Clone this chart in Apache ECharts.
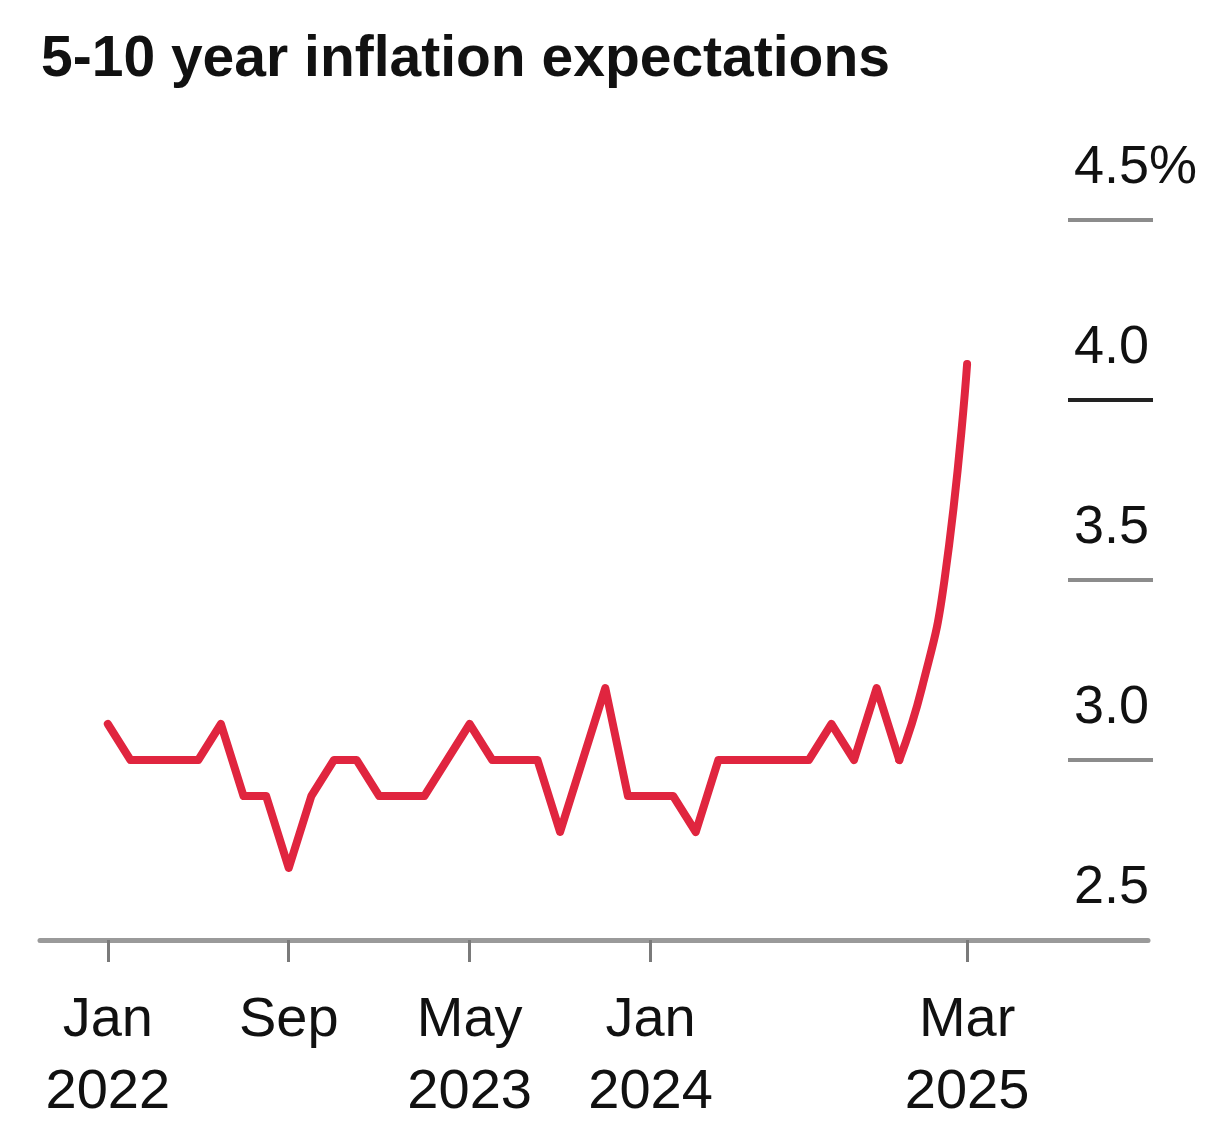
<!DOCTYPE html>
<html>
<head>
<meta charset="utf-8">
<script src="https://cdn.jsdelivr.net/npm/echarts@6/dist/echarts.min.js"></script>
<style>
html,body{margin:0;padding:0;background:#fff;}
#chart{width:1224px;height:1142px;}
</style>
</head>
<body>
<div id="chart"></div>
<script>
// Months from Jan 2022 (index 0) to Mar 2025 (index 38)
var months = [
  '2022-01','2022-02','2022-03','2022-04','2022-05','2022-06','2022-07','2022-08','2022-09','2022-10','2022-11','2022-12',
  '2023-01','2023-02','2023-03','2023-04','2023-05','2023-06','2023-07','2023-08','2023-09','2023-10','2023-11','2023-12',
  '2024-01','2024-02','2024-03','2024-04','2024-05','2024-06','2024-07','2024-08','2024-09','2024-10','2024-11','2024-12',
  '2025-01','2025-02','2025-03'
];
var expectations = [
  3.1, 3.0, 3.0, 3.0, 3.0, 3.1, 2.9, 2.9, 2.7, 2.9, 3.0, 3.0,
  2.9, 2.9, 2.9, 3.0, 3.1, 3.0, 3.0, 3.0, 2.8, 3.0, 3.2, 2.9,
  2.9, 2.9, 2.8, 3.0, 3.0, 3.0, 3.0, 3.0, 3.1, 3.0, 3.2, 3.0,
  3.2, 3.5, 4.1
];
var xTickIndex = [0, 8, 16, 24, 38];
var xTickLabels = ['Jan\n2022', 'Sep', 'May\n2023', 'Jan\n2024', 'Mar\n2025'];
var yTickValues = [2.5, 3.0, 3.5, 4.0, 4.5];
var yTickLabels = ['2.5', '3.0', '3.5', '4.0', '4.5%'];
var titleText = '5-10 year inflation expectations';

var FONT = "'Liberation Sans', Arial, Helvetica, sans-serif";
var splitIdx = 35; // Dec 2024: last steep rise drawn as a smooth curve
var linePart = [], curvePart = [];
for (var i = 0; i < months.length; i++) {
  if (i <= splitIdx) linePart.push([i, expectations[i]]);
  if (i >= splitIdx) curvePart.push([i, expectations[i]]);
}

function yAxisDef(extra) {
  var a = {
    type: 'value', position: 'right', min: 2.5, max: 4.5, interval: 0.5,
    offset: -80, splitLine: {show: false}, axisLine: {show: false},
    axisTick: {show: false}, axisLabel: {show: false}
  };
  for (var k in extra) a[k] = extra[k];
  return a;
}

var chart = echarts.init(document.getElementById('chart'), null, {renderer: 'canvas'});
chart.setOption({
  animation: false,
  backgroundColor: '#ffffff',
  title: {
    text: titleText, left: 36, top: 27,
    textStyle: {fontFamily: FONT, fontWeight: 'bold', fontSize: 57, color: '#111111'}
  },
  grid: {left: 40, right: 76, top: 220, bottom: 202, containLabel: false},
  xAxis: {
    type: 'value', min: -3, max: 46,
    splitLine: {show: false},
    axisLine: {show: true, onZero: false, lineStyle: {color: '#9a9a9a', width: 5}},
    axisTick: {show: true, customValues: xTickIndex, length: 22, lineStyle: {color: '#7a7a7a', width: 3}},
    axisLabel: {
      show: true, customValues: xTickIndex, margin: 45,
      fontFamily: FONT, fontSize: 56, lineHeight: 72, color: '#111111',
      formatter: function (v) { return xTickLabels[xTickIndex.indexOf(Math.round(v))] || ''; }
    }
  },
  yAxis: [
    yAxisDef({
      axisLabel: {
        show: true, margin: 6, align: 'left', verticalAlign: 'bottom',
        fontFamily: FONT, fontSize: 54, lineHeight: 54, padding: [0, 0, 25, 0], color: '#111111',
        formatter: function (v) {
          for (var k = 0; k < yTickValues.length; k++) if (Math.abs(yTickValues[k] - v) < 1e-6) return yTickLabels[k];
          return '';
        }
      }
    }),
    yAxisDef({
      axisTick: {show: true, customValues: [3.0, 3.5, 4.5], length: 85, lineStyle: {color: '#8c8c8c', width: 4}}
    }),
    yAxisDef({
      axisTick: {show: true, customValues: [4.0], length: 85, lineStyle: {color: '#222222', width: 4}}
    })
  ],
  series: [
    {
      type: 'line', data: linePart, showSymbol: false, symbol: 'none',
      lineStyle: {color: '#e0253f', width: 8, join: 'round', cap: 'round'}, z: 3
    },
    {
      type: 'line', data: curvePart, showSymbol: false, symbol: 'none', smooth: 0.5,
      lineStyle: {color: '#e0253f', width: 8, join: 'round', cap: 'round'}, z: 3
    }
  ]
});
</script>
</body>
</html>
